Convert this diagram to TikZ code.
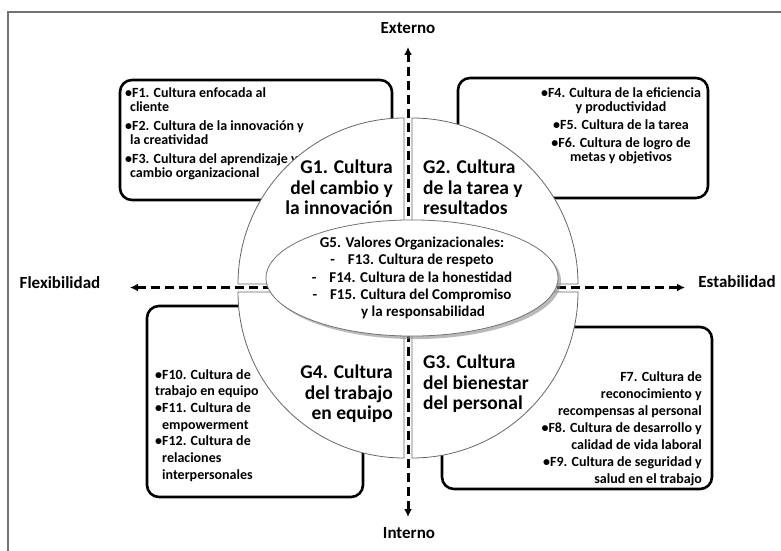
\documentclass[tikz,border=0pt]{standalone}
\usepackage{fontspec}
\setmainfont{Carlito}
\usetikzlibrary{arrows.meta}
\usetikzlibrary{shapes.geometric}
\usetikzlibrary{shadows}
\tikzset{outerframe/.style = {draw = black!55, line width = 1.2}}
\tikzset{fbox/.style = {draw, line width = 2.6, rounded corners = 12}}
\tikzset{ftext/.style = {inner sep = 0, font = \bfseries\fontsize{14}{14}\selectfont}}
\tikzset{quadrant/.style = {draw = black!60, line width = 0.8, fill = white}}
\tikzset{glabel/.style = {inner sep = 0, font = \bfseries\fontsize{19.5}{20.5}\selectfont}}
\tikzset{axisline/.style = {line width = 3, dash pattern = on 9pt off 5pt,
    {Latex[length = 8pt, width = 8pt]}-{Latex[length = 8pt, width = 8pt]}}}
\tikzset{axlabel/.style = {inner sep = 0, font = \bfseries\fontsize{17}{20}\selectfont}}
\tikzset{valores/.style = {ellipse, draw = black!55, fill = white, line width = 0.8,
    drop shadow = {shadow xshift = 3pt, shadow yshift = -3pt, fill = black!45, opacity = 0.6},
    inner sep = 0, align = center, font = \bfseries\fontsize{15}{17.3}\selectfont}}

\begin{document}
\begin{tikzpicture}[x = 1pt, y = 1pt]
    \useasboundingbox (0, 0) rectangle (781, 550);
    \draw [outerframe] (8, -10) -- (8, 538) -- (795, 538);

    % boxes with the factors
    \draw [fbox] (120, 350) rectangle (392, 470);
    \draw [fbox] (458, 352) rectangle (708, 472);
    \draw [fbox] (147, 53) rectangle (363, 244);
    \draw [fbox] (442, 61) rectangle (712, 223);

    \node [ftext, anchor = north west, align = left] (f1) at (125, 463)
      {•F1. Cultura enfocada al\\\hspace*{5pt}cliente\\[5pt]
       •F2. Cultura de la innovación y\\\hspace*{5pt}la creatividad\\[5pt]
       •F3. Cultura del aprendizaje y\\\hspace*{5pt}cambio organizacional};
    \node [ftext, anchor = north, align = center] (f4) at (621, 463)
      {•F4. Cultura de la eficiencia\\y productividad\\[4pt]
       •F5. Cultura de la tarea\\[4pt]
       •F6. Cultura de logro de\\metas y objetivos};
    \node [ftext, anchor = north west, align = left] (f10) at (155, 181)
      {•F10. Cultura de\\[2.7pt]trabajo en equipo\\[2.7pt]•F11. Cultura de\\[2.7pt]
       \hspace*{7pt}empowerment\\[2.7pt]•F12. Cultura de\\[2.7pt]
       \hspace*{7pt}relaciones\\[2.7pt]\hspace*{7pt}interpersonales};
    \node [ftext, anchor = north east, align = right] (f7) at (702, 179)
      {F7. Cultura de\\[3pt]reconocimiento y\\[3pt]recompensas al personal\\[3pt]
       •F8. Cultura de desarrollo y\\[3pt]calidad de vida laboral\\[3pt]
       •F9. Cultura de seguridad y\\[3pt]salud en el trabajo};

    % the four quadrants
    \draw [quadrant] (404, 266) -- ++(0, 166) arc [start angle = 90, end angle = 180, radius = 166] -- cycle;
    \draw [quadrant] (412, 266) -- ++(166, 0) arc [start angle = 0, end angle = 90, radius = 166] -- cycle;
    \draw [quadrant] (412, 258) -- ++(0, -166) arc [start angle = 270, end angle = 360, radius = 166] -- cycle;
    \draw [quadrant] (404, 258) -- ++(-166, 0) arc [start angle = 180, end angle = 270, radius = 166] -- cycle;

    \node [glabel, anchor = north east, align = right] (g1) at (393, 390) {G1. Cultura\\del cambio y\\la innovación};
    \node [glabel, anchor = north west, align = left] (g2) at (423, 390) {G2. Cultura\\de la tarea y\\resultados};
    \node [glabel, anchor = north west, align = left] (g3) at (423, 195) {G3. Cultura\\del bienestar\\del personal};
    \node [glabel, anchor = north east, align = right] (g4) at (393, 185) {G4. Cultura\\del trabajo\\en equipo};

    % axes
    \coordinate (ntip) at (408, 503);
    \coordinate (stip) at (408, 33);
    \coordinate (wtip) at (130, 262.5);
    \coordinate (etip) at (685, 262.5);
    \draw [axisline] (stip) -- (ntip);
    \draw [axisline] (wtip) -- (etip);

    \node [valores, minimum width = 292, minimum height = 108] (g5) at (412, 272)
      {G5. Valores Organizacionales:\\
       -\hspace{13pt}F13. Cultura de respeto\\
       -\hspace{13pt}F14. Cultura de la honestidad\\
       -\hspace{13pt}F15. Cultura del Compromiso\\
       \hspace{22pt}y la responsabilidad};

    \node [axlabel] (externo) at (408, 522) {Externo};
    \node [axlabel] (interno) at (409, 17) {Interno};
    \node [axlabel] (flex) at (60, 267) {Flexibilidad};
    \node [axlabel] (estab) at (737, 268) {Estabilidad};
  \end{tikzpicture}
\end{document}
